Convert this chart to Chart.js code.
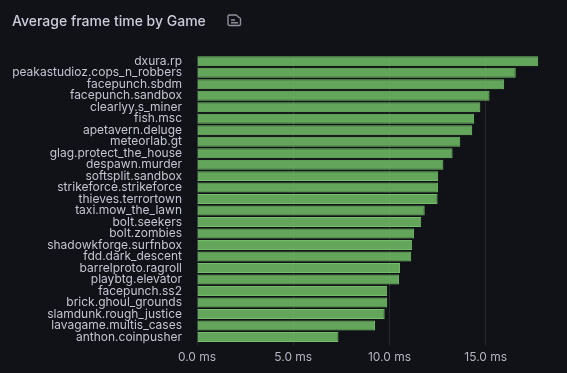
<!DOCTYPE html>
<html>
<head>
<meta charset="utf-8">
<script src="https://cdn.jsdelivr.net/npm/chart.js@4"></script>
<style>
html,body{margin:0;padding:0;background:#111217;width:567px;height:373px;overflow:hidden}
#title{position:absolute;left:12px;top:12px;font:500 14px/18px Inter,sans-serif;color:#ccccdc;white-space:nowrap}
#icon{position:absolute;left:227px;top:14px}
#wrap{position:absolute;left:0;top:0;width:567px;height:373px}
</style>
</head>
<body>
<div id="wrap"><canvas id="c" width="567" height="373"></canvas></div>
<div id="title">Average frame time by Game</div>
<svg id="icon" width="15" height="13" viewBox="0 0 15 13" fill="none" stroke="#90919e" stroke-width="1.4"><path d="M2.5 1h6.5l4.5 3.5v5.5a1.5 1.5 0 0 1-1.5 1.5h-9.500a1.500 1.500 0 0 1-1.500-1.500v-7.500a1.500 1.500 0 0 1 1.500-1.500z"/><path d="M4 6h4M4 8.800h7"/></svg>
<script>
const games = ["dxura.rp","peakastudioz.cops_n_robbers","facepunch.sbdm","facepunch.sandbox","clearlyy.s_miner","fish.msc","apetavern.deluge","meteorlab.gt","glag.protect_the_house","despawn.murder","softsplit.sandbox","strikeforce.strikeforce","thieves.terrortown","taxi.mow_the_lawn","bolt.seekers","bolt.zombies","shadowkforge.surfnbox","fdd.dark_descent","barrelproto.ragroll","playbtg.elevator","facepunch.ss2","brick.ghoul_grounds","slamdunk.rough_justice","lavagame.multis_cases","anthon.coinpusher"];
const frameTimes = [17.73,16.56,15.96,15.2,14.72,14.4,14.3,13.68,13.28,12.8,12.53,12.53,12.5,11.83,11.65,11.28,11.18,11.13,10.55,10.5,9.88,9.88,9.75,9.25,7.35];
const seriesName = "Average frame time";
const xTicks = [0,5,10,15];
new Chart(document.getElementById("c"),{
  type:"bar",
  data:{labels:games,datasets:[{label:seriesName,data:frameTimes,backgroundColor:"rgba(115,191,105,0.85)",borderColor:"#73BF69",borderWidth:1,barPercentage:0.87,categoryPercentage:1}]},
  options:{
    indexAxis:"y",responsive:false,animation:false,
    layout:{padding:{top:55.5,left:12,right:12,bottom:0}},
    plugins:{legend:{display:false},title:{display:false},tooltip:{enabled:false}},
    scales:{
      x:{min:0,max:18.6,afterFit(s){s.height=30.3;s.paddingRight=0;s.paddingLeft=0},
        afterBuildTicks(s){s.ticks=xTicks.map(v=>({value:v}))},
        border:{display:false},
        grid:{color:"rgba(204,204,220,0.12)",drawTicks:true,tickLength:3,tickColor:"rgba(204,204,220,0.12)"},
        ticks:{color:"#b4b5c2",maxRotation:0,padding:4,font:{family:"Inter",size:12},callback:v=>v.toFixed(1)+" ms"}},
      y:{afterFit(s){s.width=185},
        border:{display:false},grid:{display:false},
        ticks:{autoSkip:false,color:"#c4c5d2",padding:7,font:{family:"Inter",size:12}}}
    }
  }
});
</script>
</body>
</html>
